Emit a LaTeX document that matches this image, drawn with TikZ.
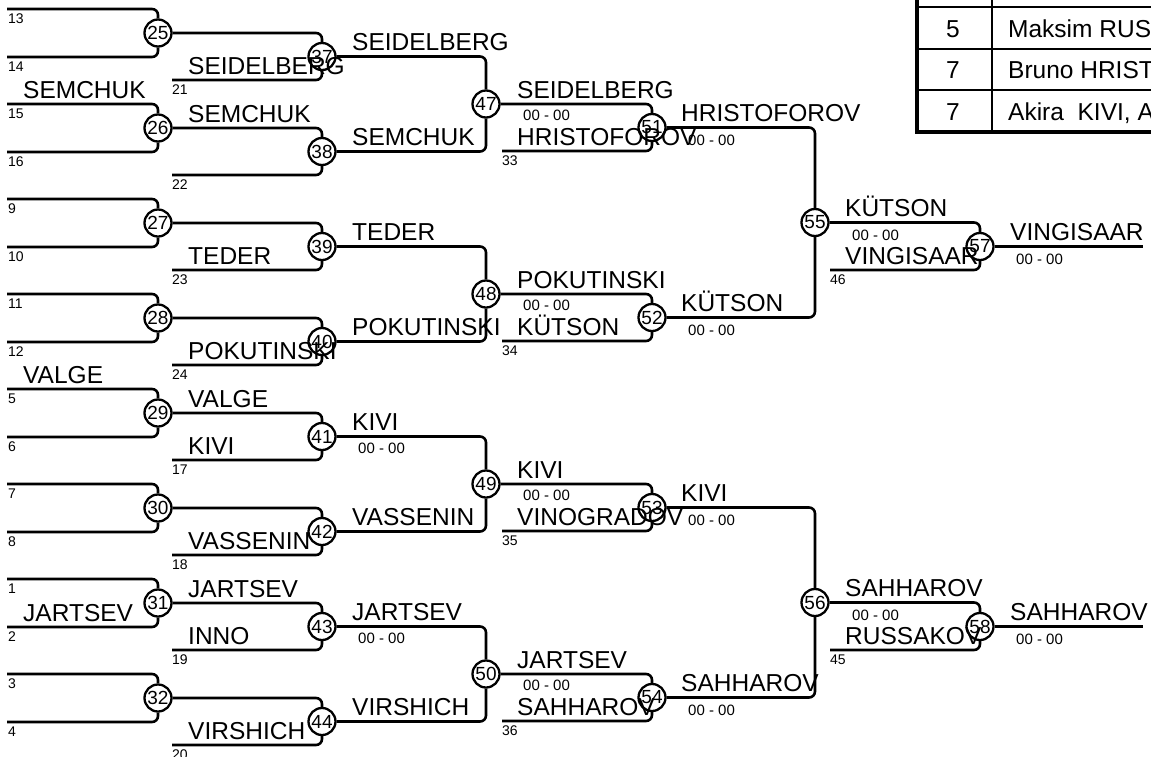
\documentclass[tikz,border=0pt]{standalone}
\usepackage{fontspec}
\setmainfont{Liberation Sans}
\tikzset{
  game/.style={circle,draw,line width=2.3pt,minimum size=27pt,inner sep=0pt,font=\fontsize{19}{20}\selectfont},
  player/.style={anchor=base west,inner sep=0pt,font=\fontsize{24.5}{26}\selectfont},
  seed/.style={anchor=north west,inner sep=0pt,font=\fontsize{14}{15}\selectfont},
  score/.style={anchor=north west,inner sep=0pt,font=\fontsize{15}{16}\selectfont},
  link/.style={line width=2.6pt,rounded corners=6pt},
  cell/.style={anchor=base,inner sep=0pt,font=\fontsize{24.5}{26}\selectfont},
}
\begin{document}
\begin{tikzpicture}[x=1pt,y=-1pt]
\useasboundingbox (0,0) rectangle (1151,756);
% first round
\node[game] (m25) at (158,33) {25};
\node[game] (m26) at (158,128) {26};
\node[game] (m27) at (158,223) {27};
\node[game] (m28) at (158,318) {28};
\node[game] (m29) at (158,413) {29};
\node[game] (m30) at (158,508) {30};
\node[game] (m31) at (158,603) {31};
\node[game] (m32) at (158,698) {32};
\coordinate (e13) at (7,9);   \coordinate (e14) at (7,57);
\coordinate (e15) at (7,104); \coordinate (e16) at (7,152);
\coordinate (e9) at (7,199);  \coordinate (e10) at (7,247);
\coordinate (e11) at (7,294); \coordinate (e12) at (7,342);
\coordinate (e5) at (7,389);  \coordinate (e6) at (7,437);
\coordinate (e7) at (7,484);  \coordinate (e8) at (7,532);
\coordinate (e1) at (7,579);  \coordinate (e2) at (7,627);
\coordinate (e3) at (7,674);  \coordinate (e4) at (7,722);
\draw[link] (e13) -| (m25); \draw[link] (e14) -| (m25);
\draw[link] (e15) -| (m26); \draw[link] (e16) -| (m26);
\draw[link] (e9) -| (m27);  \draw[link] (e10) -| (m27);
\draw[link] (e11) -| (m28); \draw[link] (e12) -| (m28);
\draw[link] (e5) -| (m29);  \draw[link] (e6) -| (m29);
\draw[link] (e7) -| (m30);  \draw[link] (e8) -| (m30);
\draw[link] (e1) -| (m31);  \draw[link] (e2) -| (m31);
\draw[link] (e3) -| (m32);  \draw[link] (e4) -| (m32);
\node[seed] (s13) at (8,14) {13};  \node[seed] (s14) at (8,62) {14};
\node[seed] (s15) at (8,109) {15}; \node[seed] (s16) at (8,157) {16};
\node[seed] (s9) at (8,204) {9};   \node[seed] (s10) at (8,252) {10};
\node[seed] (s11) at (8,299) {11}; \node[seed] (s12) at (8,347) {12};
\node[seed] (s5) at (8,394) {5};   \node[seed] (s6) at (8,442) {6};
\node[seed] (s7) at (8,489) {7};   \node[seed] (s8) at (8,537) {8};
\node[seed] (s1) at (8,584) {1};   \node[seed] (s2) at (8,632) {2};
\node[seed] (s3) at (8,679) {3};   \node[seed] (s4) at (8,727) {4};
\node[player] (p15) at (23,98) {SEMCHUK};
\node[player] (p5) at (23,383) {VALGE};
\node[player] (p2) at (23,621) {JARTSEV};
% second round
\node[game] (m37) at (322,56.5) {37};
\node[game] (m38) at (322,151.5) {38};
\node[game] (m39) at (322,246.5) {39};
\node[game] (m40) at (322,341.5) {40};
\node[game] (m41) at (322,436.5) {41};
\node[game] (m42) at (322,531.5) {42};
\node[game] (m43) at (322,626.5) {43};
\node[game] (m44) at (322,721.5) {44};
\coordinate (e21) at (172,80);  \coordinate (e22) at (172,175);
\coordinate (e23) at (172,270); \coordinate (e24) at (172,365);
\coordinate (e17) at (172,460); \coordinate (e18) at (172,555);
\coordinate (e19) at (172,650); \coordinate (e20) at (172,745);
\draw[link] (m25) -| (m37); \draw[link] (e21) -| (m37);
\draw[link] (m26) -| (m38); \draw[link] (e22) -| (m38);
\draw[link] (m27) -| (m39); \draw[link] (e23) -| (m39);
\draw[link] (m28) -| (m40); \draw[link] (e24) -| (m40);
\draw[link] (m29) -| (m41); \draw[link] (e17) -| (m41);
\draw[link] (m30) -| (m42); \draw[link] (e18) -| (m42);
\draw[link] (m31) -| (m43); \draw[link] (e19) -| (m43);
\draw[link] (m32) -| (m44); \draw[link] (e20) -| (m44);
\node[seed] (s21) at (172,85) {21};  \node[seed] (s22) at (172,180) {22};
\node[seed] (s23) at (172,275) {23}; \node[seed] (s24) at (172,370) {24};
\node[seed] (s17) at (172,465) {17}; \node[seed] (s18) at (172,560) {18};
\node[seed] (s19) at (172,655) {19}; \node[seed] (s20) at (172,750) {20};
\node[player] (p21) at (188,74) {SEIDELBERG};
\node[player] (p26) at (188,122) {SEMCHUK};
\node[player] (p23) at (188,264) {TEDER};
\node[player] (p24) at (188,359) {POKUTINSKI};
\node[player] (p29) at (188,407) {VALGE};
\node[player] (p17) at (188,454) {KIVI};
\node[player] (p18) at (188,549) {VASSENIN};
\node[player] (p31) at (188,597) {JARTSEV};
\node[player] (p19) at (188,644) {INNO};
\node[player] (p20) at (188,739) {VIRSHICH};
% third round
\node[game] (m47) at (486,104) {47};
\node[game] (m48) at (486,294) {48};
\node[game] (m49) at (486,484) {49};
\node[game] (m50) at (486,674) {50};
\draw[link] (m37) -| (m47); \draw[link] (m38) -| (m47);
\draw[link] (m39) -| (m48); \draw[link] (m40) -| (m48);
\draw[link] (m41) -| (m49); \draw[link] (m42) -| (m49);
\draw[link] (m43) -| (m50); \draw[link] (m44) -| (m50);
\node[player] (p37) at (352,50.5) {SEIDELBERG};
\node[player] (p38) at (352,145.5) {SEMCHUK};
\node[player] (p39) at (352,240.5) {TEDER};
\node[player] (p40) at (352,335.5) {POKUTINSKI};
\node[player] (p41) at (352,430.5) {KIVI};
\node[score] (r41) at (358,443) {00 - 00};
\node[player] (p42) at (352,525.5) {VASSENIN};
\node[player] (p43) at (352,620.5) {JARTSEV};
\node[score] (r43) at (358,633) {00 - 00};
\node[player] (p44) at (352,715.5) {VIRSHICH};
% fourth round
\node[game] (m51) at (652,127.5) {51};
\node[game] (m52) at (652,317.5) {52};
\node[game] (m53) at (652,507.5) {53};
\node[game] (m54) at (652,697.5) {54};
\coordinate (e33) at (502,151); \coordinate (e34) at (502,341);
\coordinate (e35) at (502,531); \coordinate (e36) at (502,721);
\draw[link] (m47) -| (m51); \draw[link] (e33) -| (m51);
\draw[link] (m48) -| (m52); \draw[link] (e34) -| (m52);
\draw[link] (m49) -| (m53); \draw[link] (e35) -| (m53);
\draw[link] (m50) -| (m54); \draw[link] (e36) -| (m54);
\node[seed] (s33) at (502,156) {33}; \node[seed] (s34) at (502,346) {34};
\node[seed] (s35) at (502,536) {35}; \node[seed] (s36) at (502,726) {36};
\node[player] (p47) at (517,98) {SEIDELBERG};
\node[score] (r47) at (523,110) {00 - 00};
\node[player] (p33) at (517,145) {HRISTOFOROV};
\node[player] (p48) at (517,288) {POKUTINSKI};
\node[score] (r48) at (523,300) {00 - 00};
\node[player] (p34) at (517,335) {KÜTSON};
\node[player] (p49) at (517,478) {KIVI};
\node[score] (r49) at (523,490) {00 - 00};
\node[player] (p35) at (517,525) {VINOGRADOV};
\node[player] (p50) at (517,668) {JARTSEV};
\node[score] (r50) at (523,680) {00 - 00};
\node[player] (p36) at (517,715) {SAHHAROV};
% fifth round
\node[game] (m55) at (815,222.5) {55};
\node[game] (m56) at (815,602.5) {56};
\draw[link] (m51) -| (m55); \draw[link] (m52) -| (m55);
\draw[link] (m53) -| (m56); \draw[link] (m54) -| (m56);
\node[player] (p51) at (681,121.5) {HRISTOFOROV};
\node[score] (r51) at (688,135) {00 - 00};
\node[player] (p52) at (681,311.5) {KÜTSON};
\node[score] (r52) at (688,325) {00 - 00};
\node[player] (p53) at (681,501.5) {KIVI};
\node[score] (r53) at (688,515) {00 - 00};
\node[player] (p54) at (681,691.5) {SAHHAROV};
\node[score] (r54) at (688,705) {00 - 00};
% sixth round
\node[game] (m57) at (980,246.5) {57};
\node[game] (m58) at (980,626.5) {58};
\coordinate (e46) at (830,270); \coordinate (e45) at (830,650);
\coordinate (f57) at (1143,246.5); \coordinate (f58) at (1143,626.5);
\draw[link] (m55) -| (m57); \draw[link] (e46) -| (m57);
\draw[link] (m56) -| (m58); \draw[link] (e45) -| (m58);
\draw[link] (m57) -- (f57);
\draw[link] (m58) -- (f58);
\node[seed] (s46) at (830,275) {46}; \node[seed] (s45) at (830,655) {45};
\node[player] (p55) at (845,216.5) {KÜTSON};
\node[score] (r55) at (852,230) {00 - 00};
\node[player] (p46) at (845,264) {VINGISAAR};
\node[player] (p56) at (845,596.5) {SAHHAROV};
\node[score] (r56) at (852,610) {00 - 00};
\node[player] (p45) at (845,644) {RUSSAKOV};
\node[player] (p57) at (1010,240.5) {VINGISAAR};
\node[score] (r57) at (1016,254) {00 - 00};
\node[player] (p58) at (1010,620.5) {SAHHAROV};
\node[score] (r58) at (1016,634) {00 - 00};
% table, cut by the page
\begin{scope}
\clip (0,0) rectangle (1151,756);
\draw[line width=2pt] (992,-10) -- (992,132);
\draw[line width=2.5pt] (916,7) -- (1200,7) (916,49) -- (1200,49) (916,90) -- (1200,90);
\draw[line width=4.5pt] (917,-10) -- (917,132) -- (1200,132);
\node[cell] (t1) at (953,37) {5};
\node[cell] (t2) at (953,78) {7};
\node[cell] (t3) at (953,120) {7};
\node[cell,anchor=base west] (u1) at (1008,37) {Maksim RUSSAKOV};
\node[cell,anchor=base west] (u2) at (1008,78) {Bruno HRISTOFOROV};
\node[cell,anchor=base west] (u3) at (1008,120) {Akira\ \ KIVI, A};
\end{scope}
\end{tikzpicture}
\end{document}
